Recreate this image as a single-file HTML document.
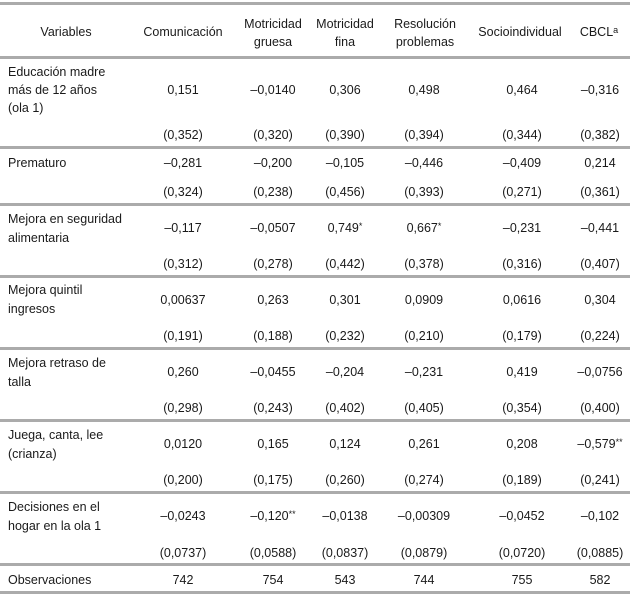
<!DOCTYPE html>
<html>
<head>
<meta charset="utf-8">
<style>
html,body{margin:0;padding:0;background:#fff;}
#t{position:relative;width:630px;height:597px;overflow:hidden;font-family:"Liberation Sans",Arial,sans-serif;font-size:12.5px;color:#1a1a1a;}
.hr{position:absolute;left:0;width:630px;height:3px;background:#ababab;}
.r{position:absolute;left:0;width:630px;height:18px;line-height:18px;}
.r span{position:absolute;top:0;width:100px;text-align:center;white-space:nowrap;}
.k1{left:133px}.k2{left:223px}.k3{left:295px}.k4{left:374px}.k5{left:472px}.k6{left:550px}
.l{position:absolute;left:8px;line-height:18.5px;white-space:nowrap;}
.h{position:absolute;width:120px;text-align:center;line-height:18px;white-space:nowrap;}
sup{font-size:9px;vertical-align:3px;line-height:0;}
</style>
</head>
<body>
<div id="t">
<div class="hr" style="top:2px"></div>
<div class="hr" style="top:56px"></div>
<div class="hr" style="top:146px"></div>
<div class="hr" style="top:203px"></div>
<div class="hr" style="top:275px"></div>
<div class="hr" style="top:347px"></div>
<div class="hr" style="top:419px"></div>
<div class="hr" style="top:491px"></div>
<div class="hr" style="top:563px"></div>
<div class="hr" style="top:591px"></div>

<!-- header -->
<div class="h" style="left:6px;top:23px">Variables</div>
<div class="h" style="left:123px;top:23px">Comunicación</div>
<div class="h" style="left:213px;top:15px">Motricidad<br>gruesa</div>
<div class="h" style="left:285px;top:15px">Motricidad<br>fina</div>
<div class="h" style="left:365px;top:15px">Resolución<br>problemas</div>
<div class="h" style="left:460px;top:23px">Socioindividual</div>
<div class="h" style="left:539px;top:23px">CBCL<sup>a</sup></div>

<!-- row 1 -->
<div class="l" style="top:63px;line-height:18px">Educación madre<br>más de 12 años<br>(ola 1)</div>
<div class="r" style="top:81px"><span class="k1">0,151</span><span class="k2">–0,0140</span><span class="k3">0,306</span><span class="k4">0,498</span><span class="k5">0,464</span><span class="k6">–0,316</span></div>
<div class="r" style="top:126px"><span class="k1">(0,352)</span><span class="k2">(0,320)</span><span class="k3">(0,390)</span><span class="k4">(0,394)</span><span class="k5">(0,344)</span><span class="k6">(0,382)</span></div>

<!-- row 2 -->
<div class="l" style="top:154px">Prematuro</div>
<div class="r" style="top:154px"><span class="k1">–0,281</span><span class="k2">–0,200</span><span class="k3">–0,105</span><span class="k4">–0,446</span><span class="k5">–0,409</span><span class="k6">0,214</span></div>
<div class="r" style="top:183px"><span class="k1">(0,324)</span><span class="k2">(0,238)</span><span class="k3">(0,456)</span><span class="k4">(0,393)</span><span class="k5">(0,271)</span><span class="k6">(0,361)</span></div>

<!-- row 3 -->
<div class="l" style="top:210px">Mejora en seguridad<br>alimentaria</div>
<div class="r" style="top:219px"><span class="k1">–0,117</span><span class="k2">–0,0507</span><span class="k3">0,749<sup>*</sup></span><span class="k4">0,667<sup>*</sup></span><span class="k5">–0,231</span><span class="k6">–0,441</span></div>
<div class="r" style="top:255px"><span class="k1">(0,312)</span><span class="k2">(0,278)</span><span class="k3">(0,442)</span><span class="k4">(0,378)</span><span class="k5">(0,316)</span><span class="k6">(0,407)</span></div>

<!-- row 4 -->
<div class="l" style="top:281px">Mejora quintil<br>ingresos</div>
<div class="r" style="top:291px"><span class="k1">0,00637</span><span class="k2">0,263</span><span class="k3">0,301</span><span class="k4">0,0909</span><span class="k5">0,0616</span><span class="k6">0,304</span></div>
<div class="r" style="top:327px"><span class="k1">(0,191)</span><span class="k2">(0,188)</span><span class="k3">(0,232)</span><span class="k4">(0,210)</span><span class="k5">(0,179)</span><span class="k6">(0,224)</span></div>

<!-- row 5 -->
<div class="l" style="top:354px">Mejora retraso de<br>talla</div>
<div class="r" style="top:363px"><span class="k1">0,260</span><span class="k2">–0,0455</span><span class="k3">–0,204</span><span class="k4">–0,231</span><span class="k5">0,419</span><span class="k6">–0,0756</span></div>
<div class="r" style="top:399px"><span class="k1">(0,298)</span><span class="k2">(0,243)</span><span class="k3">(0,402)</span><span class="k4">(0,405)</span><span class="k5">(0,354)</span><span class="k6">(0,400)</span></div>

<!-- row 6 -->
<div class="l" style="top:426px">Juega, canta, lee<br>(crianza)</div>
<div class="r" style="top:435px"><span class="k1">0,0120</span><span class="k2">0,165</span><span class="k3">0,124</span><span class="k4">0,261</span><span class="k5">0,208</span><span class="k6">–0,579<sup>**</sup></span></div>
<div class="r" style="top:471px"><span class="k1">(0,200)</span><span class="k2">(0,175)</span><span class="k3">(0,260)</span><span class="k4">(0,274)</span><span class="k5">(0,189)</span><span class="k6">(0,241)</span></div>

<!-- row 7 -->
<div class="l" style="top:498px">Decisiones en el<br>hogar en la ola 1</div>
<div class="r" style="top:507px"><span class="k1">–0,0243</span><span class="k2">–0,120<sup>**</sup></span><span class="k3">–0,0138</span><span class="k4">–0,00309</span><span class="k5">–0,0452</span><span class="k6">–0,102</span></div>
<div class="r" style="top:544px"><span class="k1">(0,0737)</span><span class="k2">(0,0588)</span><span class="k3">(0,0837)</span><span class="k4">(0,0879)</span><span class="k5">(0,0720)</span><span class="k6">(0,0885)</span></div>

<!-- observations -->
<div class="l" style="top:571px">Observaciones</div>
<div class="r" style="top:571px"><span class="k1">742</span><span class="k2">754</span><span class="k3">543</span><span class="k4">744</span><span class="k5">755</span><span class="k6">582</span></div>
</div>
</body>
</html>
